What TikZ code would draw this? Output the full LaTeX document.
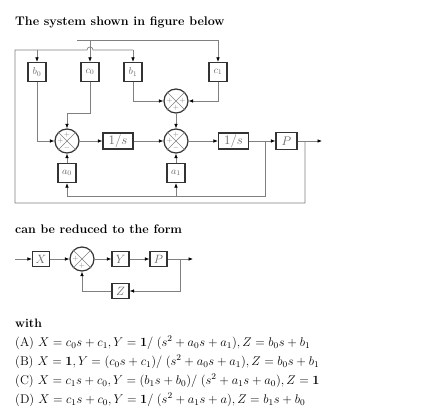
\RequirePackage{fix-cm}
\documentclass[tikz,border=0pt]{standalone}
\usetikzlibrary{arrows.meta,calc}
\definecolor{lnc}{gray}{0.5}
\definecolor{bdc}{gray}{0.2}
\definecolor{txc}{gray}{0.4}
\begin{document}
\begin{tikzpicture}[x=1pt,y=-1pt,
  blk/.style={draw=bdc, line width=1.2pt, fill=white, inner sep=0pt, text=txc,
    minimum width=18pt, minimum height=19pt, font=\fontsize{10}{11}\selectfont},
  blkw/.style={blk, minimum width=30pt, minimum height=16pt, font=\fontsize{13}{14}\selectfont},
  blkp/.style={blk, minimum width=21pt, minimum height=17pt, font=\fontsize{12.5}{13}\selectfont},
  blks/.style={blk, minimum width=17pt, minimum height=15.5pt, font=\fontsize{12}{13}\selectfont},
  sumj/.style={circle, draw=bdc, line width=1.2pt, fill=white, minimum size=24pt, inner sep=0pt},
  ln/.style={draw=lnc, line width=0.7pt},
  arr/.style={ln, -{Latex[length=4.5pt,width=3.6pt,color=black]}},
  xl/.style={draw=lnc, line width=0.5pt},
  sgn/.style={font=\fontsize{7}{7}\selectfont, text=lnc, inner sep=0pt},
  ttl/.style={anchor=west, inner sep=0pt, font=\bfseries\fontsize{12.5}{14}\selectfont},
  opt/.style={anchor=west, inner sep=0pt, font=\fontsize{12.6}{14}\selectfont}]
\useasboundingbox (0,0) rectangle (434,420);
\fill[white] (0,0) rectangle (434,420);

% texts
\node[ttl] (title) at (15,22) {The system shown in figure below};
\node[ttl, font=\bfseries\fontsize{12.4}{14}\selectfont] (reduced) at (15,229) {can be reduced to the form};
\node[ttl, font=\bfseries\fontsize{12.2}{14}\selectfont] (with) at (15,323) {with};
\node[opt] (optA) at (15,343) {(A) $X=c_0s+c_1,Y=\mathbf{1}/\;(s^2+a_0s+a_1),Z=b_0s+b_1$};
\node[opt] (optB) at (15,362) {(B) $X=\mathbf{1},Y=(c_0s+c_1)/\;(s^2+a_0s+a_1),Z=b_0s+b_1$};
\node[opt] (optC) at (15,381) {(C) $X=c_1s+c_0,Y=(b_1s+b_0)/\;(s^2+a_1s+a_0),Z=\mathbf{1}$};
\node[opt] (optD) at (15,400) {(D) $X=c_1s+c_0,Y=\mathbf{1}/\;(s^2+a_1s+a),Z=b_1s+b_0$};

% top diagram nodes
\node[blk] (b0) at (37,72) {$b_0$};
\node[blk] (c0) at (90,72) {$c_0$};
\node[blk] (b1) at (133,72) {$b_1$};
\node[blk] (c1) at (218,72) {$c_1$};
\node[sumj] (U) at (176,101) {};
\node[sumj] (L) at (67,141) {};
\node[sumj] (M) at (176,141) {};
\node[blkw] (i1) at (118,141) {$1/s$};
\node[blkw] (i2) at (233.5,141) {$1/s$};
\node[blkp] (P) at (286.5,141) {$P$};
\node[blk] (a0) at (67,173) {$a_0$};
\node[blk] (a1) at (176,173) {$a_1$};

\foreach \j in {U,L,M}{
  \draw[xl] (\j.north west) -- (\j.south east) (\j.north east) -- (\j.south west);
}
\node[sgn] (Ul) at ($(U)+(-6.5,0)$) {$+$};
\node[sgn] (Ur) at ($(U)+(6.5,0)$) {$+$};
\node[sgn] (Ub) at ($(U)+(0,6.5)$) {$+$};
\node[sgn] (Lt) at ($(L)+(0,-6.5)$) {$+$};
\node[sgn] (Ll) at ($(L)+(-6.5,0)$) {$+$};
\node[sgn] (Lb) at ($(L)+(0,6.5)$) {$-$};
\node[sgn] (Mt) at ($(M)+(0,-6.5)$) {$+$};
\node[sgn] (Ml) at ($(M)+(-6.5,0)$) {$+$};
\node[sgn] (Mb) at ($(M)+(0,6.5)$) {$-$};

% coordinates
\coordinate (inL) at (77,40);
\coordinate (c0t) at (90,40);
\coordinate (inR) at (218,40);
\coordinate (c0k) at (90,113);
\coordinate (br1) at (265,141);
\coordinate (br2) at (305,141);
\coordinate (out) at (322,141);
\coordinate (ia0) at (67,196);
\coordinate (ia1) at (176,196);
\coordinate (ob) at (15,203);
\coordinate (ot) at (15,50);
\coordinate (b0t) at (37,50);
\coordinate (hopL) at (87,50);
\coordinate (ob1) at (133,50);

% connectors
\draw[ln] (inL) -- (inR);
\draw[arr] (inR) -- (c1);
\draw[arr] (c0t) -- (c0);
\draw[ln] (br2) |- (ob) -- (ot) -- (hopL) arc[start angle=180,end angle=0,radius=3pt] -- (ob1);
\draw[arr] (ob1) -- (b1);
\draw[arr] (b0t) -- (b0);
\draw[arr] (b0) |- (L);
\draw[arr] (c0) -- (c0k) -| (L);
\draw[arr] (b1) |- (U);
\draw[arr] (c1) |- (U);
\draw[arr] (U) -- (M);
\draw[arr] (L) -- (i1);
\draw[arr] (i1) -- (M);
\draw[arr] (M) -- (i2);
\draw[arr] (i2) -- (P);
\draw[arr] (P) -- (out);
\draw[ln] (br1) |- (ia0);
\draw[arr] (ia0) -- (a0);
\draw[arr] (ia1) -- (a1);
\draw[arr] (a0) -- (L);
\draw[arr] (a1) -- (M);

% bottom diagram
\node[blks] (X) at (41,259) {$X$};
\node[sumj] (J) at (82,259) {};
\draw[xl] (J.north west) -- (J.south east) (J.north east) -- (J.south west);
\node[sgn] (Jl) at ($(J)+(-6.5,0)$) {$+$};
\node[sgn] (Jb) at ($(J)+(0,6.5)$) {$+$};
\node[blks] (Y) at (120.5,259) {$Y$};
\node[blks] (P2) at (158.5,259) {$P$};
\node[blks] (Z) at (120.5,291) {$Z$};
\coordinate (in2) at (15,259);
\coordinate (br3) at (180,259);
\coordinate (out2) at (193,259);
\draw[arr] (in2) -- (X);
\draw[arr] (X) -- (J);
\draw[arr] (J) -- (Y);
\draw[arr] (Y) -- (P2);
\draw[arr] (P2) -- (out2);
\draw[arr] (br3) |- (Z);
\draw[arr] (Z) -| (J);
\end{tikzpicture}
\end{document}
